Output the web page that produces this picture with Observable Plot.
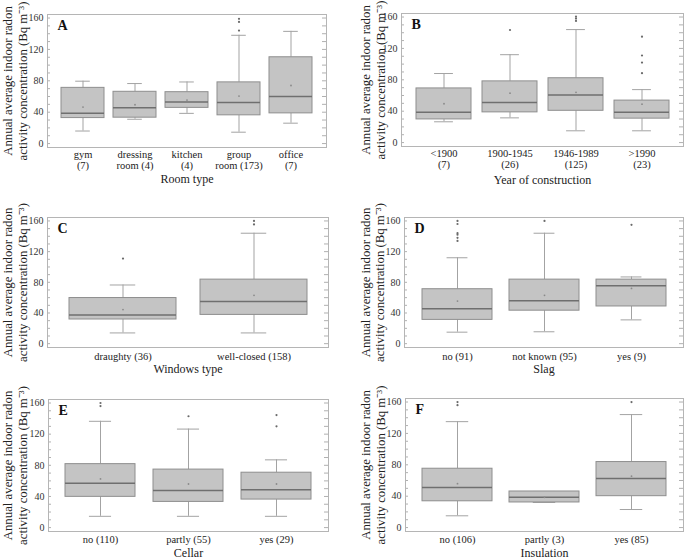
<!DOCTYPE html>
<html><head><meta charset="utf-8">
<script src="https://cdn.jsdelivr.net/npm/d3@7"></script>
<script src="https://cdn.jsdelivr.net/npm/@observablehq/plot@0.6"></script>
<style>
body{margin:0;background:#fff;}
#root{position:relative;width:685px;height:560px;overflow:hidden;font-family:'Liberation Serif',serif;}
.p{position:absolute;}
svg{overflow:visible;}
svg text{font-family:'Liberation Serif',serif !important;}
</style>
</head><body><div id="root"></div>
<script>
// ---------- DATA ----------
// Panel A: Room type
const roomCats = ["gym\n(7)", "dressing\nroom (4)", "kitchen\n(4)", "group\nroom (173)", "office\n(7)"];
const roomLo   = [16, 31, 38.5, 14.5, 26];
const roomQ1   = [32.5, 33, 45.5, 36, 38.5];
const roomMed  = [38.5, 45.5, 53, 52.5, 60];
const roomQ3   = [71, 66, 65.5, 78, 110];
const roomHi   = [79.5, 76.5, 78.5, 138, 143];
const roomMean = [46.5, 49.5, 55.5, 60.5, 74];
const roomOut  = [[], [], [], [144, 155, 159], []];

// Panel B: Year of construction
const yearCats = ["<1900\n(7)", "1900-1945\n(26)", "1946-1989\n(125)", ">1990\n(23)"];
const yearLo   = [26.5, 31.5, 15, 15];
const yearQ1   = [29.5, 38.5, 40.5, 30.5];
const yearMed  = [38.5, 51, 60.5, 38.5];
const yearQ3   = [69, 78, 82, 53.5];
const yearHi   = [88, 112, 144, 67.5];
const yearMean = [49.5, 63, 64, 49];
const yearOut  = [[], [143.5], [155, 158, 160.5], [88.5, 102, 111, 135]];

// Panel C: Windows type
const winCats = ["draughty (36)", "well-closed (158)"];
const winLo   = [14, 14];
const winQ1   = [31.5, 37.5];
const winMed  = [37.5, 55];
const winQ3   = [59.5, 83.5];
const winHi   = [76.5, 144];
const winMean = [44.5, 63];
const winOut  = [[111], [155.5, 160]];

// Panel D: Slag
const slagCats = ["no (91)", "not known (95)", "yes (9)"];
const slagLo   = [15, 15.5, 31];
const slagQ1   = [31, 43, 48.5];
const slagMed  = [45.5, 56, 75.5];
const slagQ3   = [71, 83.5, 83.5];
const slagHi   = [112, 144, 87];
const slagMean = [55.5, 63, 72];
const slagOut  = [[134, 138, 142, 144, 156, 160], [160], [155]];

// Panel E: Cellar
const cellCats = ["no (110)", "partly (55)", "yes (29)"];
const cellLo   = [14.5, 14.5, 14.5];
const cellQ1   = [39.5, 33, 36];
const cellMed  = [57, 47.5, 48.5];
const cellQ3   = [81.5, 74.5, 70.5];
const cellHi   = [136.5, 126.5, 87];
const cellMean = [62.5, 56, 56];
const cellOut  = [[156, 160], [143], [130, 144.5]];

// Panel F: Insulation
const insCats = ["no (106)", "partly (3)", "yes (85)"];
const insLo   = [15, 32, 23];
const insQ1   = [33.5, 32, 40];
const insMed  = [51, 38.5, 62.5];
const insQ3   = [75, 46, 83.5];
const insHi   = [135, 46, 144];
const insMean = [56, 38.5, 65.5];
const insOut  = [[156, 160], [], [160]];

const yTicks = [0, 40, 80, 120, 160];
const yTitle1 = "Annual average indoor radon";
const yTitle2 = "activity concentration (Bq m\u207B\u00B3)";

// ---------- DRAW ----------
const FONT = "Liberation Serif";
function panel(o) {
  const n = o.cats.length;
  const rows = o.cats.map((c, i) => ({c, lo: o.lo[i], q1: o.q1[i], med: o.med[i], q3: o.q3[i], hi: o.hi[i], mean: o.mean[i]}));
  const outs = o.cats.flatMap((c, i) => o.out[i].map(v => ({c, v})));
  const fw = o.width - o.ml - o.mr;
  const bw = fw * (1 - o.pi) / (n - o.pi + 2 * o.po);
  const capInset = bw * o.cap;
  const minor = d3.range(0, 161, 10);
  const whisk = "#a3a3a3";
  const chart = Plot.plot({
    width: o.width, height: o.height,
    marginLeft: o.ml, marginRight: o.mr, marginTop: o.mt, marginBottom: o.mb,
    style: "font-family: 'Liberation Serif', serif; color: #333; background: transparent; overflow: visible;",
    x: {domain: o.cats, axis: null, paddingInner: o.pi, paddingOuter: o.po},
    y: {domain: [-5, 164.5], axis: null},
    marks: [
      Plot.ruleY(minor, {insetLeft: fw - 4, stroke: "#b0b0b0"}),
      Plot.ruleY(minor, {insetRight: fw - 3, stroke: "#b0b0b0"}),
      Plot.frame({stroke: "#b5b5b5"}),
      Plot.axisY({ticks: yTicks, tickSize: 0, tickPadding: 4, fontSize: 10, fontFamily: FONT}),
      Plot.ruleX(rows, {x: "c", y1: "lo", y2: "q1", stroke: whisk}),
      Plot.ruleX(rows, {x: "c", y1: "q3", y2: "hi", stroke: whisk}),
      Plot.tickY(rows, {x: "c", y: "hi", insetLeft: capInset, insetRight: capInset, stroke: whisk}),
      Plot.tickY(rows, {x: "c", y: "lo", insetLeft: capInset, insetRight: capInset, stroke: whisk}),
      Plot.barY(rows, {x: "c", y1: "q1", y2: "q3", fill: "#c4c4c4", stroke: "#8e8e8e"}),
      Plot.tickY(rows, {x: "c", y: "med", stroke: "#6f6f6f", strokeWidth: 1.5}),
      Plot.dot(rows, {x: "c", y: "mean", r: 0.9, fill: "#8a8a8a", stroke: null}),
      Plot.dot(outs, {x: "c", y: "v", r: 1.1, fill: "#6a6a6a", stroke: null}),
      Plot.text(rows, {x: "c", text: "c", frameAnchor: "bottom", lineAnchor: "top", dy: o.labelDy, fontSize: 10.5, lineHeight: 1.05, fill: "#222", fontFamily: FONT}),
      Plot.text([o.xTitle], {text: d => d, frameAnchor: "bottom", lineAnchor: "middle", dy: o.titleDy, fontSize: 12, fill: "#222", fontFamily: FONT}),
      Plot.text([yTitle1], {text: d => d, frameAnchor: "left", textAnchor: "middle", lineAnchor: "middle", dx: o.t1, rotate: -90, fontSize: 12.8, fill: "#222", fontFamily: FONT}),
      Plot.text([yTitle2], {text: d => d, frameAnchor: "left", textAnchor: "middle", lineAnchor: "middle", dx: o.t2, rotate: -90, fontSize: 12.8, fill: "#222", fontFamily: FONT}),
      Plot.text([o.letter], {text: d => d, frameAnchor: "top-left", dx: 10, dy: 6, lineAnchor: "top", textAnchor: "start", fontWeight: "bold", fontSize: 14, fill: "#111", fontFamily: FONT})
    ]
  });
  const div = document.createElement("div");
  div.className = "p";
  div.style.left = o.left + "px";
  div.style.top = o.top + "px";
  div.appendChild(chart);
  document.getElementById("root").appendChild(div);
}

panel({letter: "A", cats: roomCats, lo: roomLo, q1: roomQ1, med: roomMed, q3: roomQ3, hi: roomHi, mean: roomMean, out: roomOut,
  xTitle: "Room type", left: 0, top: 0, width: 335, height: 185, ml: 47, mr: 9, mt: 14, mb: 38,
  pi: 0.18, po: 0.25, cap: 0.33, t1: -40, t2: -25, labelDy: 2.5, titleDy: 31.5});
panel({letter: "B", cats: yearCats, lo: yearLo, q1: yearQ1, med: yearMed, q3: yearQ3, hi: yearHi, mean: yearMean, out: yearOut,
  xTitle: "Year of construction", left: 340, top: 0, width: 345, height: 185, ml: 61, mr: 2, mt: 13, mb: 39,
  pi: 0.17, po: 0.22, cap: 0.33, t1: -36, t2: -21, labelDy: 3, titleDy: 34});
panel({letter: "C", cats: winCats, lo: winLo, q1: winQ1, med: winMed, q3: winQ3, hi: winHi, mean: winMean, out: winOut,
  xTitle: "Windows type", left: 0, top: 185, width: 335, height: 185, ml: 47, mr: 7, mt: 32, mb: 23,
  pi: 0.185, po: 0.16, cap: 0.38, t1: -40, t2: -25, labelDy: 4.5, titleDy: 22});
panel({letter: "D", cats: slagCats, lo: slagLo, q1: slagQ1, med: slagMed, q3: slagQ3, hi: slagHi, mean: slagMean, out: slagOut,
  xTitle: "Slag", left: 340, top: 185, width: 345, height: 185, ml: 64, mr: 2, mt: 32, mb: 23,
  pi: 0.2, po: 0.19, cap: 0.35, t1: -39, t2: -25, labelDy: 4.5, titleDy: 22});
panel({letter: "E", cats: cellCats, lo: cellLo, q1: cellQ1, med: cellMed, q3: cellQ3, hi: cellHi, mean: cellMean, out: cellOut,
  xTitle: "Cellar", left: 0, top: 370, width: 335, height: 190, ml: 48, mr: 7, mt: 29, mb: 29,
  pi: 0.2, po: 0.19, cap: 0.34, t1: -41, t2: -26, labelDy: 4, titleDy: 22});
panel({letter: "F", cats: insCats, lo: insLo, q1: insQ1, med: insMed, q3: insQ3, hi: insHi, mean: insMean, out: insOut,
  xTitle: "Insulation", left: 340, top: 370, width: 345, height: 190, ml: 65, mr: 2, mt: 28, mb: 29,
  pi: 0.2, po: 0.19, cap: 0.34, t1: -40, t2: -25, labelDy: 4, titleDy: 21.5});
</script>
</body></html>
